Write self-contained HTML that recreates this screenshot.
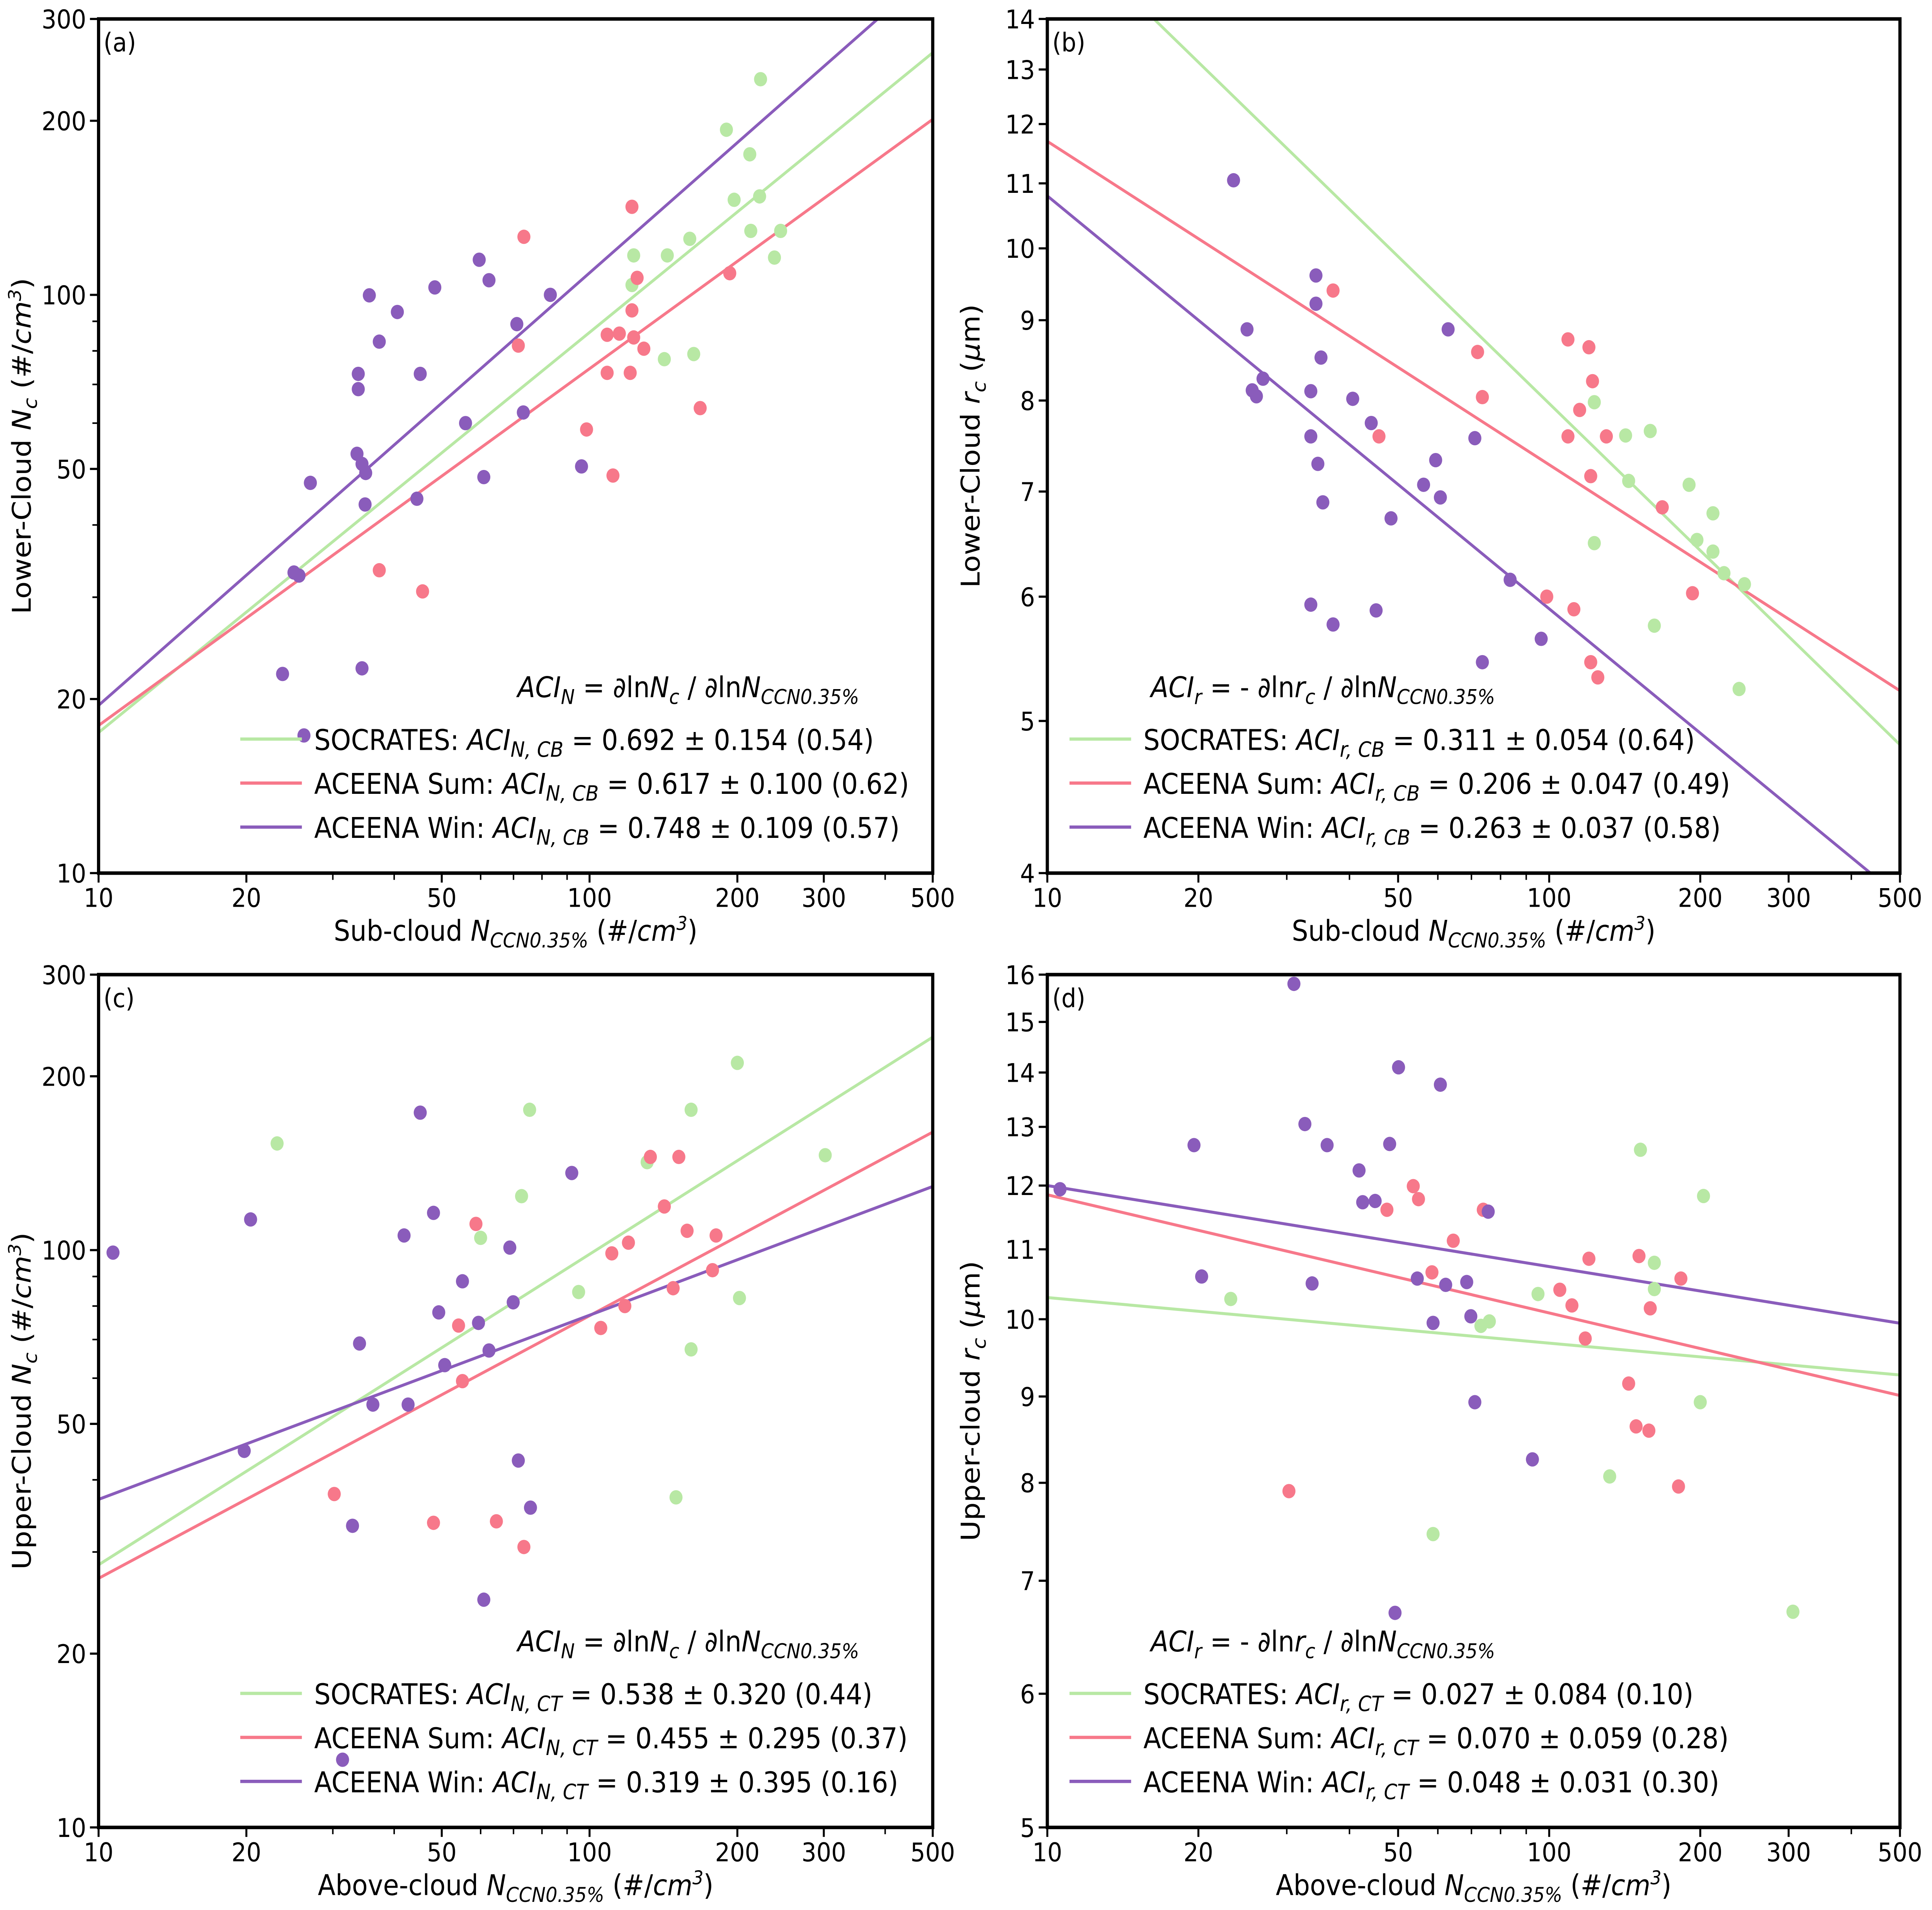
<!DOCTYPE html>
<html><head><meta charset="utf-8"><style>
html,body{margin:0;padding:0;background:#fff;overflow:hidden;width:100vw;height:100vh;}
svg{display:block;width:100vw;height:100vh;}
text{font-family:"DejaVu Sans","Liberation Sans",sans-serif;fill:#000;}
</style></head><body>
<svg id="fig" viewBox="0 0 1568 1411" preserveAspectRatio="none" xmlns="http://www.w3.org/2000/svg"></svg>
<script>
// ---------- DATA ----------
const socA_x=[123,122,142,144,160,163,190,197,212,213,223,222,238,245];
const socA_y=[117,104,77.4,117,125,79,193,146,175,129,236,148,116,129];
const sumA_x=[37.3,45.7,73.5,71.6,98.6,111.6,108.6,108.6,115,122,122,123,121,125,129,168,193];
const sumA_y=[33.4,30.7,126,81.7,58.5,48.7,85.3,73.3,85.7,142,94,84.4,73.3,107,80.7,63.7,109];
const winA_x=[23.7,26.2,27,25,25.6,33.8,33.8,33.6,34.4,35,34.9,34.4,35.6,37.3,40.6,45.2,44.5,48.4,55.9,59.6,60.9,62.4,71.1,73.3,83.2,96.3];
const winA_y=[22.1,17.3,47.3,33.1,32.7,73,68.7,53.1,51,49.2,43.4,22.6,99.8,83,93.4,73,44.4,103,60,115,48.4,106,89,62.6,100,50.5];
const fitA=[[17.5,0.692],[18,0.617],[19.5,0.748]];

const socB_x=[123,123,142,144,159,162,190,197,212,212,223,239,245];
const socB_y=[7.98,6.49,7.6,7.11,7.65,5.75,7.07,6.52,6.78,6.41,6.21,5.24,6.11];
const sumB_x=[37.1,45.8,72,73.6,98.9,109,109,112,115,120,122,121,121,125,130,168,193];
const sumB_y=[9.4,7.59,8.59,8.04,6.0,8.75,7.59,5.89,7.89,8.65,8.23,7.16,5.45,5.33,7.59,6.84,6.03];
const winB_x=[23.5,25,25.6,26.1,26.9,34.3,34.3,35.1,33.5,33.5,34.6,35.4,33.5,37.1,40.6,44.2,48.4,45.2,56.2,59.4,60.7,62.9,71.1,73.6,83.6,96.4];
const winB_y=[11.05,8.88,8.12,8.05,8.26,9.61,9.22,8.52,8.11,7.59,7.29,6.89,5.93,5.76,8.02,7.74,6.73,5.88,7.07,7.33,6.94,8.88,7.57,5.45,6.15,5.64];
const fitB=[[16.3,-0.311],[11.7,-0.206],[10.8,-0.263]];

const socC_x=[23.1,60,72.7,75.5,95,131,150,161,161,200,202,302];
const socC_y=[153,105,124,175,84.6,142,37.3,67.3,175,211,82.6,146];
const sumC_x=[30.2,48.1,54.1,55.1,58.7,64.6,73.5,105.4,111,118,120,133,142,148,152,158,178,181];
const sumC_y=[37.8,33.7,74,59.3,111,33.9,30.6,73.3,98.7,80,103,145,119,85.9,145,108,92.3,106];
const winC_x=[10.7,19.8,20.4,31.4,32.9,34,36.2,41.9,42.7,45.2,48.1,49.3,50.7,55.1,59.4,60.9,62.4,68.8,69.9,71.6,75.8,92];
const winC_y=[99,44.9,113,13.1,33.3,68.9,54,106,54,173,116,78,63.2,88.3,74.8,24.8,67,101,81.2,43.2,35.8,136];
const fitC=[[28.5,0.538],[27,0.455],[37,0.319]];

const socD_x=[23.2,58.7,73.1,76,95,132,152,162,162,200,203,306];
const socD_y=[10.28,7.46,9.91,9.97,10.35,8.07,12.6,10.8,10.42,8.93,11.83,6.71];
const sumD_x=[30.3,47.5,53.6,54.9,58.4,64.4,73.9,105,111,118,120,144,149,158,151,159,183,181];
const sumD_y=[7.91,11.61,11.99,11.78,10.66,11.13,11.61,10.41,10.19,9.74,10.86,9.16,8.64,8.59,10.9,10.15,10.57,7.96];
const winD_x=[10.6,19.6,20.3,31,32.6,33.7,36.1,41.8,42.5,45,48.1,50.1,49.3,54.6,58.7,60.7,62.2,68.5,69.8,71.1,75.6,92.6];
const winD_y=[11.94,12.68,10.6,15.8,13.05,10.5,12.68,12.25,11.73,11.75,12.7,14.1,6.7,10.57,9.95,13.77,10.48,10.52,10.04,8.93,11.58,8.26];
const fitD=[[10.3,-0.027],[11.85,-0.07],[12.0,-0.048]];

const xTickLabels=[10,20,50,100,200,300,500];
const xMinor=[30,40,60,70,80,90,400];
const yTicksAC=[10,20,50,100,200,300];
const yMinorAC=[30,40,60,70,80,90];
const yTicksB=[4,5,6,7,8,9,10,11,12,13,14];
const yTicksD=[5,6,7,8,9,10,11,12,13,14,15,16];

// ---------- DRAW ----------
const NS="http://www.w3.org/2000/svg";
const svg=document.getElementById('fig');
const COL=['#b8e8a4','#f7788a','#8a5cbb'];
function mk(tag,attrs,parent){const e=document.createElementNS(NS,tag);for(const k in attrs)e.setAttribute(k,attrs[k]);(parent||svg).appendChild(e);return e;}

function panel(cfg){
  const g=mk('g',{});
  
  
  const L=cfg.x0,R=cfg.x1,T=cfg.y0,B=cfg.y1;
  const lx0=Math.log10(10),lx1=Math.log10(500);
  const ly0=Math.log10(cfg.ymin),ly1=Math.log10(cfg.ymax);
  const X=v=>L+(Math.log10(v)-lx0)/(lx1-lx0)*(R-L);
  const Y=v=>B-(Math.log10(v)-ly0)/(ly1-ly0)*(B-T);
  const cp=mk('clipPath',{id:'clip'+cfg.id},g);
  mk('rect',{x:L,y:T,width:R-L,height:B-T},cp);
  cfg.fit.forEach((f,i)=>{
    const x1=10,x2=500;
    const ln=mk('line',{x1:X(x1),y1:Y(f[0]),x2:X(x2),y2:Y(f[0]*Math.pow(x2/x1,f[1])),stroke:COL[i],'stroke-width':2.2,'clip-path':'url(#clip'+cfg.id+')'},g);
    
    
  });
  cfg.series.forEach((s,i)=>{
    s[0].forEach((xv,j)=>{
      const c=mk('circle',{cx:X(xv),cy:Y(s[1][j]),r:5.3,fill:COL[i],'clip-path':'url(#clip'+cfg.id+')'},g);
      
      
    });
  });
  const fr=mk('rect',{x:L,y:T,width:R-L,height:B-T,fill:'none',stroke:'#000','stroke-width':2.6},g);
  
  
  xTickLabels.forEach(v=>{
    mk('line',{x1:X(v),y1:B,x2:X(v),y2:B+7,stroke:'#000','stroke-width':1.6},g);
    const t=mk('text',{x:X(v),y:B+25,'font-size':19,'text-anchor':'middle'},g);t.textContent=v;
    
    
  });
  xMinor.forEach(v=>mk('line',{x1:X(v),y1:B,x2:X(v),y2:B+5,stroke:'#000','stroke-width':1.2},g));
  cfg.yt.forEach(v=>{
    mk('line',{x1:L-7,y1:Y(v),x2:L,y2:Y(v),stroke:'#000','stroke-width':1.6},g);
    const t=mk('text',{x:L-10,y:Y(v)+7,'font-size':19,'text-anchor':'end'},g);t.textContent=v;
    
    
  });
  (cfg.ym||[]).forEach(v=>mk('line',{x1:L-5,y1:Y(v),x2:L,y2:Y(v),stroke:'#000','stroke-width':1.2},g));
  const pl=mk('text',{x:L+4,y:T+24,'font-size':19},g);pl.textContent='('+cfg.id+')';
  
  
  const xt=mk('text',{x:(L+R)/2,y:B+50,'font-size':21,'text-anchor':'middle'},g);
  xt.innerHTML=cfg.xlabel;
  
  
  const yt=mk('text',{x:0,y:0,'font-size':21,'text-anchor':'middle',transform:`translate(${L-55},${(T+B)/2}) rotate(-90)`},g);
  yt.innerHTML=cfg.ylabel;
  
  
  const lg=mk('g',{},g);
  
  
  const eq=mk('text',{x:cfg.eqx,y:B-130,'font-size':21},lg);eq.innerHTML=cfg.eq;
  cfg.leg.forEach((txt,i)=>{
    const yy=B-99+i*32.5;
    mk('line',{x1:cfg.lx,y1:yy,x2:cfg.lx+50,y2:yy,stroke:COL[i],'stroke-width':2.4},lg);
    const t=mk('text',{x:cfg.lx+60,y:yy+8,'font-size':21},lg);t.innerHTML=txt;
    
    
  });
}
const unit=`(#/<tspan font-style="italic">cm</tspan><tspan font-size="14" dy="-8" font-style="italic">3</tspan><tspan dy="8">)</tspan>`;
const nccn=`<tspan font-style="italic">N</tspan><tspan font-size="15" dy="5" font-style="italic">CCN0.35%</tspan><tspan dy="-5"> </tspan>`;
function legN(tag,vals){return vals.map((v,i)=>`${['SOCRATES','ACEENA Sum','ACEENA Win'][i]}: <tspan font-style="italic">ACI</tspan><tspan font-size="15.5" dy="5" font-style="italic">N, ${tag}</tspan><tspan dy="-5"> = ${v}</tspan>`);}
function legR(tag,vals){return vals.map((v,i)=>`${['SOCRATES','ACEENA Sum','ACEENA Win'][i]}: <tspan font-style="italic">ACI</tspan><tspan font-size="15.5" dy="5" font-style="italic">r, ${tag}</tspan><tspan dy="-5"> = ${v}</tspan>`);}
const eqN=`<tspan font-style="italic">ACI</tspan><tspan font-size="15" dy="5" font-style="italic">N</tspan><tspan dy="-5"> = ∂ln</tspan><tspan font-style="italic">N</tspan><tspan font-size="15" dy="5" font-style="italic">c</tspan><tspan dy="-5"> / ∂ln</tspan><tspan font-style="italic">N</tspan><tspan font-size="15" dy="5" font-style="italic">CCN0.35%</tspan>`;
const eqR=`<tspan font-style="italic">ACI</tspan><tspan font-size="15" dy="5" font-style="italic">r</tspan><tspan dy="-5"> = - ∂ln</tspan><tspan font-style="italic">r</tspan><tspan font-size="15" dy="5" font-style="italic">c</tspan><tspan dy="-5"> / ∂ln</tspan><tspan font-style="italic">N</tspan><tspan font-size="15" dy="5" font-style="italic">CCN0.35%</tspan>`;

panel({id:'a',x0:80,x1:757,y0:14,y1:645,ymin:10,ymax:300,yt:yTicksAC,ym:yMinorAC,
  series:[[socA_x,socA_y],[sumA_x,sumA_y],[winA_x,winA_y]],fit:fitA,
  xlabel:`Sub-cloud ${nccn}${unit}`,
  ylabel:`Lower-Cloud <tspan font-style="italic">N</tspan><tspan font-size="15" dy="5" font-style="italic">c</tspan><tspan dy="-5"> ${unit}</tspan>`,
  eq:eqN,eqx:420,lx:195,leg:legN('CB',['0.692 ± 0.154 (0.54)','0.617 ± 0.100 (0.62)','0.748 ± 0.109 (0.57)'])});
panel({id:'b',x0:850,x1:1542,y0:14,y1:645,ymin:4,ymax:14,yt:yTicksB,
  series:[[socB_x,socB_y],[sumB_x,sumB_y],[winB_x,winB_y]],fit:fitB,
  xlabel:`Sub-cloud ${nccn}${unit}`,
  ylabel:`Lower-Cloud <tspan font-style="italic">r</tspan><tspan font-size="15" dy="5" font-style="italic">c</tspan><tspan dy="-5"> (</tspan><tspan font-style="italic">μ</tspan>m)`,
  eq:eqR,eqx:934,lx:868,leg:legR('CB',['0.311 ± 0.054 (0.64)','0.206 ± 0.047 (0.49)','0.263 ± 0.037 (0.58)'])});
panel({id:'c',x0:80,x1:757,y0:720,y1:1350,ymin:10,ymax:300,yt:yTicksAC,ym:yMinorAC,
  series:[[socC_x,socC_y],[sumC_x,sumC_y],[winC_x,winC_y]],fit:fitC,
  xlabel:`Above-cloud ${nccn}${unit}`,
  ylabel:`Upper-Cloud <tspan font-style="italic">N</tspan><tspan font-size="15" dy="5" font-style="italic">c</tspan><tspan dy="-5"> ${unit}</tspan>`,
  eq:eqN,eqx:420,lx:195,leg:legN('CT',['0.538 ± 0.320 (0.44)','0.455 ± 0.295 (0.37)','0.319 ± 0.395 (0.16)'])});
panel({id:'d',x0:850,x1:1542,y0:720,y1:1350,ymin:5,ymax:16,yt:yTicksD,
  series:[[socD_x,socD_y],[sumD_x,sumD_y],[winD_x,winD_y]],fit:fitD,
  xlabel:`Above-cloud ${nccn}${unit}`,
  ylabel:`Upper-cloud <tspan font-style="italic">r</tspan><tspan font-size="15" dy="5" font-style="italic">c</tspan><tspan dy="-5"> (</tspan><tspan font-style="italic">μ</tspan>m)`,
  eq:eqR,eqx:934,lx:868,leg:legR('CT',['0.027 ± 0.084 (0.10)','0.070 ± 0.059 (0.28)','0.048 ± 0.031 (0.30)'])});
</script>
</body></html>
